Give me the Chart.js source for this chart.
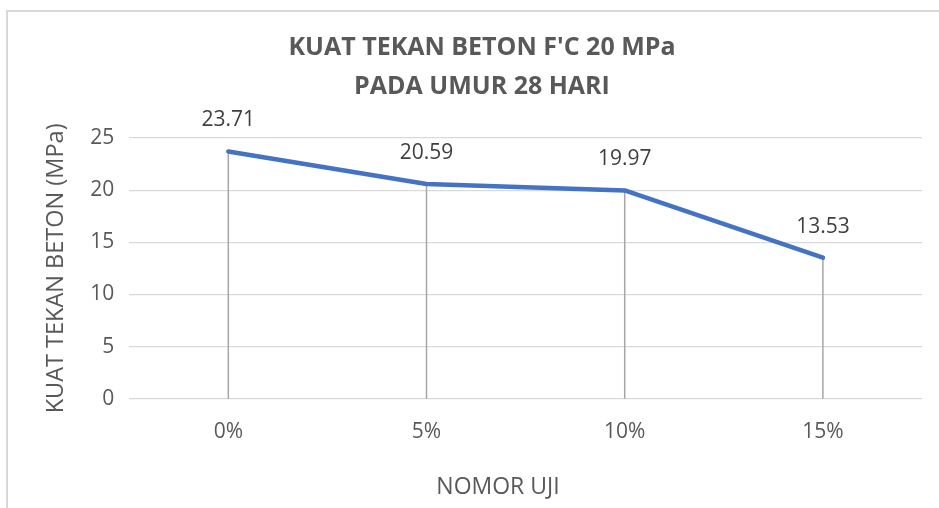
<!DOCTYPE html>
<html>
<head>
<meta charset="utf-8">
<script src="https://cdn.jsdelivr.net/npm/chart.js@4.4.1/dist/chart.umd.min.js"></script>
<style>
    body { margin: 0; background: #fff; }
    #wrap { position: relative; width: 939px; height: 508px; overflow: hidden; }
    #frame { position: absolute; left: 6px; top: 10px; width: 1000px; height: 600px;
             border-left: 2px solid #d9d9d9; border-top: 2px solid #d9d9d9; }
    #chart { position: absolute; left: 0; top: 0; }
</style>
</head>
<body>
<div id="wrap">
    <div id="frame"></div>
    <canvas id="chart" width="939" height="508"></canvas>
</div>
<script>
const categories = ['0%', '5%', '10%', '15%'];
const strengthValues = [23.71, 20.59, 19.97, 13.53];
const yTicks = [0, 5, 10, 15, 20, 25];
const chartTitle = ["KUAT TEKAN BETON F'C 20 MPa", 'PADA UMUR 28 HARI'];
const xTitle = 'NOMOR UJI';
const yTitle = 'KUAT TEKAN BETON (MPa)';

const textColor = '#595959';
const font = "'Open Sans', 'Noto Sans', sans-serif";

// vertical drop lines from each point down to the axis
const dropLines = {
    id: 'dropLines',
    beforeDatasetsDraw(chart) {
        const meta = chart.getDatasetMeta(0);
        const yBottom = chart.scales.y.getPixelForValue(0);
        const ctx = chart.ctx;
        ctx.save();
        ctx.strokeStyle = '#a6a6a6';
        ctx.lineWidth = 1.5;
        meta.data.forEach(pt => {
            ctx.beginPath();
            ctx.moveTo(pt.x, pt.y);
            ctx.lineTo(pt.x, yBottom);
            ctx.stroke();
        });
        ctx.restore();
    }
};

// value labels above points + x axis title
const labelsPlugin = {
    id: 'labelsPlugin',
    afterDatasetsDraw(chart) {
        const meta = chart.getDatasetMeta(0);
        const ctx = chart.ctx;
        ctx.save();
        ctx.fillStyle = '#404040';
        ctx.font = '21px ' + font;
        ctx.textAlign = 'center';
        ctx.textBaseline = 'middle';
        meta.data.forEach((pt, i) => {
            ctx.fillText(strengthValues[i].toFixed(2), pt.x, pt.y - 31);
        });
        ctx.fillStyle = textColor;
        ctx.font = '23px ' + font;
        ctx.fillText(xTitle, 498, 487);
        ctx.restore();
    }
};

new Chart(document.getElementById('chart'), {
    type: 'line',
    data: {
        labels: categories,
        datasets: [{
            data: strengthValues,
            borderColor: '#4472c4',
            borderWidth: 4.5,
            borderCapStyle: 'round',
            borderJoinStyle: 'round',
            pointRadius: 0,
            tension: 0,
            fill: false
        }]
    },
    options: {
        responsive: false,
        animation: false,
        layout: { padding: { left: 42, right: 17, top: 0, bottom: 42 } },
        plugins: {
            legend: { display: false },
            tooltip: { enabled: false },
            title: {
                display: true,
                text: chartTitle,
                color: textColor,
                font: { family: font, size: 25, weight: 'bold', lineHeight: 1.56 },
                padding: { top: 28, bottom: 32 }
            }
        },
        scales: {
            x: {
                offset: true,
                grid: { display: false, drawTicks: false },
                border: { display: false },
                ticks: { color: textColor, font: { family: font, size: 21 }, padding: 21 }
            },
            y: {
                min: 0,
                max: 25,
                afterBuildTicks: axis => { axis.ticks = yTicks.map(v => ({ value: v })); },
                grid: { color: '#d9d9d9', lineWidth: 1.3, drawTicks: false },
                border: { display: false },
                ticks: { color: textColor, font: { family: font, size: 21 }, padding: 15 },
                title: {
                    display: true,
                    text: yTitle,
                    color: textColor,
                    font: { family: font, size: 23.5 },
                    padding: { top: 0, bottom: 5 }
                }
            }
        }
    },
    plugins: [dropLines, labelsPlugin]
});
</script>
</body>
</html>
